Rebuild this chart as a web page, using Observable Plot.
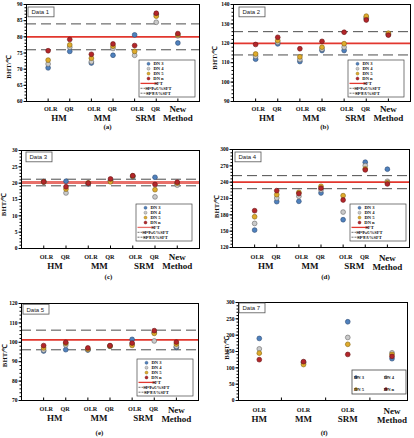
<!DOCTYPE html>
<html>
<head>
<meta charset="utf-8">
<script src="https://cdn.jsdelivr.net/npm/d3@7"></script>
<script src="https://cdn.jsdelivr.net/npm/@observablehq/plot@0.6"></script>
<style>
  body { margin: 0; background: #fff; }
  #fig { position: relative; width: 414px; height: 438px; overflow: hidden; background: #fff; }
  #fig svg { position: absolute; overflow: visible; }
</style>
</head>
<body>
<div id="fig"></div>
<script>
// ---- Series names and category labels ----
const dnNames = ["DN 3", "DN 4", "DN 5", "DN n"];
const methodLabels = ["HM", "MM", "SRM"];
const fitLabels = ["OLR", "QR"];
const fitLabelsOLR = ["OLR"];
const newMethodLabel = "New\nMethod";
const panelNames = ["Data 1", "Data 2", "Data 3", "Data 4", "Data 5", "Data 7"];
const captions = ["(a)", "(b)", "(c)", "(d)", "(e)", "(f)"];
const yLabel = "BHT/℃";

// ---- BHT estimates (℃): rows = DN 3, DN 4, DN 5, DN n ----
// columns: HM-OLR, HM-QR, MM-OLR, MM-QR, SRM-OLR, SRM-QR, New Method
const data1 = [
  [70.4, 75.5, 71.9, 74.3, 80.6, 86.9, 78.1],
  [71.6, 76.8, 72.3, 76.4, 74.3, 84.5, 80.3],
  [72.8, 77.5, 73.4, 77.1, 75.5, 86.4, 80.6],
  [75.7, 79.2, 74.6, 77.8, 77.3, 87.3, 81.0]
];
const data2 = [
  [111.8, 119.7, 110.6, 116.3, 116.3, 132.7, 124.6],
  [113.3, 120.5, 111.6, 117.0, 118.0, 133.3, 124.8],
  [114.5, 121.4, 113.0, 118.0, 119.8, 134.0, 125.2],
  [119.4, 123.1, 117.2, 121.0, 125.7, 132.0, 124.2]
];
const data3 = [
  [20.5, 20.6, 19.8, 20.7, 22.0, 21.8, 19.8],
  [20.3, 17.0, 19.9, 20.8, 22.1, 15.8, 19.4],
  [20.4, 18.2, 20.1, 20.4, 22.2, 18.0, 20.0],
  [20.4, 18.9, 20.0, 21.3, 22.3, 19.6, 20.3]
];
const data4 = [
  [152.0, 204.2, 204.8, 220.1, 171.0, 276.7, 263.8],
  [164.2, 210.9, 214.0, 225.7, 185.1, 270.5, 241.6],
  [176.5, 217.1, 221.4, 232.4, 215.2, 264.4, 239.2],
  [187.6, 224.4, 219.0, 229.0, 207.2, 262.5, 236.7]
];
const data5 = [
  [95.5, 96.2, 96.0, 97.9, 101.5, 105.1, 97.4],
  [96.0, 98.6, 96.2, 98.2, 99.1, 100.7, 97.9],
  [97.1, 99.5, 96.5, 98.0, 98.4, 104.6, 99.1],
  [98.3, 100.0, 97.1, 98.3, 99.6, 106.0, 100.1]
];
// columns: HM-OLR, MM-OLR, SRM-OLR, New Method
const data7 = [
  [190, 117, 241, 128],
  [158, 115, 193, 146],
  [145, 110, 172, 141],
  [125, 119, 141, 135]
];
const panelSeries = [data1, data2, data3, data4, data5, data7];

// Standard formation temperature per data set (none for Data 7)
const sftValues = [80, 120, 20.2, 240, 101.2, null];

// ---- Axis ticks ----
const yTicks1 = [60, 65, 70, 75, 80, 85, 90];
const yTicks2 = [90, 100, 110, 120, 130, 140];
const yTicks3 = [0, 5, 10, 15, 20, 25, 30];
const yTicks4 = [120, 150, 180, 210, 240, 270, 300];
const yTicks5 = [70, 80, 90, 100, 110, 120];
const yTicks7 = [0, 50, 100, 150, 200, 250, 300];
const yTickSets = [yTicks1, yTicks2, yTicks3, yTicks4, yTicks5, yTicks7];
const yMinorSteps = [1, 2, 1, 6, 2, 10];

// ---- Styling ----
const fills = ["#4f81bd", "#cacaca", "#dfab2c", "#b3262a"];
const outlines = ["#2c4a73", "#666666", "#85650f", "#6a1214"];
const serif = "'Liberation Serif', 'Times New Roman', serif";
const sans = "'Liberation Sans', Arial, sans-serif";

// ---- Panel placement ----
const layouts = [
  {left: 0,   top: 0,   width: 207, height: 140, ml: 26, mr: 8, mt: 4,  mb: 39, xd: [0, 8],
   sub: 7.8, grp: 16.5, cap: 25.5, capX: 107, ylDx: -18, ylDy: 14, boxDx: 2, boxDy: 3, legR: 4, legB: 4, sftW: 1.8, sftC: "#e2372e"},
  {left: 207, top: 0,   width: 207, height: 140, ml: 26, mr: 4, mt: 4,  mb: 39, xd: [0, 8],
   sub: 7.6, grp: 16.6, cap: 25, capX: 117, ylDx: -19, ylDy: 5, boxDx: 6, boxDy: 3, legR: 6, legB: 4, sftW: 1.8, sftC: "#e2372e"},
  {left: 0,   top: 140, width: 207, height: 150, ml: 21, mr: 8, mt: 10, mb: 42, xd: [0, 8],
   sub: 8.7, grp: 17.7, cap: 28, capX: 108, ylDx: -18, ylDy: 5, boxDx: 5, boxDy: 2, legR: 7, legB: 7, sftW: 3, sftC: "#e8706a"},
  {left: 207, top: 140, width: 207, height: 150, ml: 25, mr: 5, mt: 9,  mb: 43, xd: [0, 8],
   sub: 10, grp: 19, cap: 29, capX: 118, ylDx: -16, ylDy: 8, boxDx: 3, boxDy: 3, legR: 3, legB: 6, sftW: 1.8, sftC: "#e2372e"},
  {left: 0,   top: 290, width: 207, height: 148, ml: 21, mr: 9, mt: 13, mb: 38, xd: [0, 8],
   sub: 9, grp: 18, cap: 32.5, capX: 99, ylDx: -17, ylDy: 3.5, boxDx: 2, boxDy: 1.3, legR: 5, legB: 4, sftW: 1.8, sftC: "#e2372e"},
  {left: 207, top: 290, width: 207, height: 148, ml: 31, mr: 7, mt: 12, mb: 38, xd: [0.53, 4.35],
   sub: 10, grp: 18.7, cap: 32.5, capX: 116.7, ylDx: -12, ylDy: -3.5, boxDx: 1, boxDy: 1, legR: 1, legB: 6}
];

const fig = document.getElementById("fig");

function drawPanel(i) {
  const L = layouts[i];
  const series = panelSeries[i];
  const sft = sftValues[i];
  const fits = i === 5 ? fitLabelsOLR : fitLabels;
  const nf = fits.length;

  // category positions; paired OLR/QR labels sit slightly toward each other
  const subRows = [];
  const groupRows = [];
  methodLabels.forEach((m, k) => {
    fits.forEach((f, j) => subRows.push({pos: k * nf + j + 1, t: f, nudge: nf === 2 ? (j === 0 ? 0.12 : -0.03) : 0}));
    groupRows.push({pos: k * nf + (nf + 1) / 2, t: m});
  });
  const newPos = methodLabels.length * nf + 1;
  const catPositions = d3.range(1, newPos + 1);

  const yTicks = yTickSets[i];
  const yDomain = d3.extent(yTicks);
  const minor = d3.range(yDomain[0], yDomain[1] + 1e-9, yMinorSteps[i]);

  const marks = [];
  if (sft != null) {
    marks.push(Plot.ruleY([sft * 1.05, sft * 0.95], {stroke: "#4d4d4d", strokeWidth: 1, strokeDasharray: "10,5"}));
    marks.push(Plot.ruleY([sft], {stroke: L.sftC, strokeWidth: L.sftW}));
  }
  series.forEach((vals, s) => {
    const rows = vals.map((v, j) => ({pos: j + 1, v}));
    marks.push(Plot.dot(rows, {x: "pos", y: "v", r: 2.4, fill: fills[s], stroke: outlines[s], strokeWidth: 0.6}));
  });
  marks.push(Plot.frame({stroke: "#000", strokeWidth: 1}));
  marks.push(Plot.axisY(minor, {tickSize: 1.5, tickFormat: () => "", label: null, stroke: "#000"}));
  marks.push(Plot.axisY(yTicks, {tickSize: 2.5, tickPadding: 1.5, label: null, fontSize: 5.5, fontWeight: "bold", fontFamily: serif, fill: "#000", stroke: "#000"}));
  marks.push(Plot.axisX(i === 5 ? [1.5, 2.5, 3.5] : catPositions, {tickSize: -2.5, tickFormat: () => "", label: null, stroke: "#000"}));

  // category labels below the frame
  marks.push(Plot.text(subRows, {x: d => d.pos + d.nudge, text: "t", frameAnchor: "bottom", dy: L.sub, lineAnchor: "middle",
    fontSize: 6.2, fontWeight: "bold", fontFamily: serif, fill: "#111"}));
  marks.push(Plot.text(groupRows, {x: "pos", text: "t", frameAnchor: "bottom", dy: L.grp, lineAnchor: "middle",
    fontSize: 9, fontWeight: "bold", fontFamily: serif, fill: "#111"}));
  marks.push(Plot.text([{pos: newPos, t: newMethodLabel}], {x: "pos", text: "t", frameAnchor: "bottom",
    dy: (L.sub + L.grp) / 2 + 0.3, lineAnchor: "middle", lineHeight: 1.0,
    fontSize: 9, fontWeight: "bold", fontFamily: serif, fill: "#111"}));
  marks.push(Plot.text([captions[i]], {text: d => d, frameAnchor: "bottom-left", dx: L.capX - L.ml, dy: L.cap,
    lineAnchor: "middle", textAnchor: "middle", fontSize: 7, fontWeight: "bold", fontFamily: serif, fill: "#111"}));

  // y label
  marks.push(Plot.text([yLabel], {text: d => d, frameAnchor: "left", rotate: -90, dx: L.ylDx, dy: L.ylDy,
    textAnchor: "middle", lineAnchor: "middle", fontSize: 6.8, fontWeight: "bold", fontFamily: serif, fill: "#111"}));

  // data set name
  marks.push(Plot.text([panelNames[i]], {text: d => d, frameAnchor: "top-left", dx: L.boxDx + 3, dy: L.boxDy + 4.9,
    lineAnchor: "middle", textAnchor: "start", fontSize: 6, fontFamily: sans, fill: "#222"}));

  const svg = Plot.plot({
    width: L.width,
    height: L.height,
    marginLeft: L.ml,
    marginRight: L.mr,
    marginTop: L.mt,
    marginBottom: L.mb,
    x: {domain: L.xd, label: null},
    y: {domain: yDomain, label: null},
    style: {fontFamily: serif, background: "transparent", overflow: "visible"},
    marks
  });
  svg.style.left = L.left + "px";
  svg.style.top = L.top + "px";
  fig.appendChild(svg);

  const root = d3.select(svg);
  const fx0 = L.ml, fx1 = L.width - L.mr, fy0 = L.mt, fy1 = L.height - L.mb;

  // box around the data set name
  const nameText = root.selectAll("text").filter(function () { return this.textContent === panelNames[i]; }).node();
  if (nameText) {
    const g = nameText.closest("g");
    const rect = document.createElementNS("http://www.w3.org/2000/svg", "rect");
    rect.setAttribute("x", fx0 + L.boxDx);
    rect.setAttribute("y", fy0 + L.boxDy);
    rect.setAttribute("width", 26);
    rect.setAttribute("height", 9.8);
    rect.setAttribute("fill", "#fff");
    rect.setAttribute("stroke", "#555");
    rect.setAttribute("stroke-width", 0.8);
    g.parentNode.insertBefore(rect, g);
  }

  // legend
  const leg = root.append("g").attr("font-family", serif).attr("font-weight", "bold").attr("font-size", 4.6).attr("fill", "#111");
  if (i !== 5) {
    const w = 56, h = 37;
    const bx = fx1 - L.legR - w, by = fy1 - L.legB - h;
    leg.append("rect").attr("x", bx).attr("y", by).attr("width", w).attr("height", h)
      .attr("fill", "#fff").attr("stroke", "#444").attr("stroke-width", 0.7);
    const entries = [
      ...dnNames.map((n, s) => ({type: "dot", s, label: n})),
      {type: "line", label: "SFT", stroke: L.sftC, dash: null, w: 1.3},
      {type: "line", label: "SFT+5%SFT", stroke: "#333", dash: "2,1", w: 0.7},
      {type: "line", label: "SFT-5%SFT", stroke: "#333", dash: "2,1", w: 0.7}
    ];
    entries.forEach((e, k) => {
      const y = by + 3.8 + k * 4.9;
      if (e.type === "dot") {
        leg.append("circle").attr("cx", bx + 9.5).attr("cy", y).attr("r", 1.5)
          .attr("fill", fills[e.s]).attr("stroke", outlines[e.s]).attr("stroke-width", 0.4);
      } else {
        leg.append("line").attr("x1", bx + 1.5).attr("x2", bx + 18).attr("y1", y).attr("y2", y)
          .attr("stroke", e.stroke).attr("stroke-width", e.w).attr("stroke-dasharray", e.dash);
      }
      leg.append("text").attr("x", bx + 19.5).attr("y", y).attr("dy", "0.35em").text(e.label);
    });
  } else {
    const w = 54, h = 24;
    const bx = fx1 - L.legR - w, by = fy1 - L.legB - h;
    leg.append("rect").attr("x", bx).attr("y", by).attr("width", w).attr("height", h)
      .attr("fill", "#fff").attr("stroke", "#444").attr("stroke-width", 0.8);
    dnNames.forEach((n, s) => {
      const cx = bx + 4 + (s % 2) * 30;
      const cy = by + 7 + Math.floor(s / 2) * 12;
      leg.append("circle").attr("cx", cx).attr("cy", cy).attr("r", 1.5)
        .attr("fill", fills[s]).attr("stroke", outlines[s]).attr("stroke-width", 0.4);
      leg.append("text").attr("x", cx + 3).attr("y", cy).attr("dy", "0.35em").text(n);
    });
  }
}

layouts.forEach((_, i) => drawPanel(i));
</script>
</body>
</html>
